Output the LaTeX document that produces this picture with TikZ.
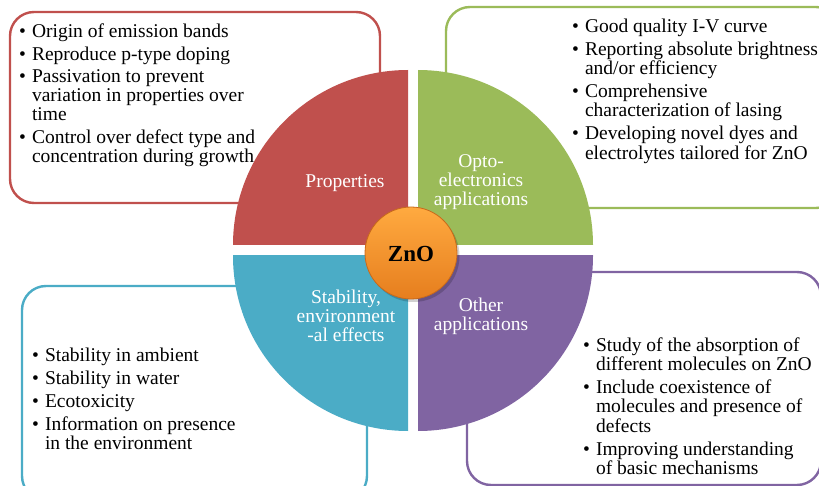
\documentclass[tikz,border=0pt]{standalone}
\usepackage{fontspec}
\setmainfont{Liberation Serif}
\definecolor{qred}{HTML}{C0504D}
\definecolor{qgreen}{HTML}{9BBB59}
\definecolor{qblue}{HTML}{4BACC6}
\definecolor{qpurple}{HTML}{8064A2}
\definecolor{znlight}{HTML}{FFAA40}
\definecolor{zndark}{HTML}{E67E1E}
\definecolor{znrim}{HTML}{C8691A}
\newcommand{\bodyfont}{\fontsize{19.5}{18.7}\selectfont}
\newcommand{\itemgap}{\\[3.8pt]}
\newenvironment{blist}{\bodyfont\begin{tabular}[t]{@{}l@{\hspace{6pt}}l@{}}}{\end{tabular}}
\tikzset{
  topicbox/.style={draw=#1, line width=2.4pt, fill=white, rounded corners=24pt},
  listtext/.style={anchor=base west, inner sep=0pt, text=black},
  quadlabel/.style={text=white, align=center, inner sep=0pt, font=\fontsize{19.5}{19}\selectfont},
}
\begin{document}
\begin{tikzpicture}[x=1pt, y=-1pt]
\useasboundingbox (0,0) rectangle (819,486);

% topic boxes with their lists
\clip (0,0) rectangle (819,486);
\draw[topicbox=qred] (10,12) rectangle (380,203);
\draw[topicbox=qgreen] (446,7) rectangle (840,208);
\draw[topicbox=qblue] (22,286) rectangle (367,500);
\draw[topicbox=qpurple] (467,272) rectangle (821,485);

\node[listtext] (tprop) at (19,37.3) {\begin{blist}
\textbullet & Origin of emission bands\itemgap
\textbullet & Reproduce p-type doping\itemgap
\textbullet & Passivation to prevent\\
 & variation in properties over\\
 & time\itemgap
\textbullet & Control over defect type and\\
 & concentration during growth
\end{blist}};

\node[listtext] (topto) at (572,32.3) {\begin{blist}
\textbullet & Good quality I-V curve\itemgap
\textbullet & Reporting absolute brightness\\
 & and/or efficiency\itemgap
\textbullet & Comprehensive\\
 & characterization of lasing\itemgap
\textbullet & Developing novel dyes and\\
 & electrolytes tailored for ZnO
\end{blist}};

\node[listtext] (tstab) at (32,361.7) {\begin{blist}
\textbullet & Stability in ambient\itemgap
\textbullet & Stability in water\itemgap
\textbullet & Ecotoxicity\itemgap
\textbullet & Information on presence\\
 & in the environment
\end{blist}};

\node[listtext] (tother) at (583,351) {\begin{blist}
\textbullet & Study of the absorption of\\
 & different molecules on ZnO\itemgap
\textbullet & Include coexistence of\\
 & molecules and presence of\\
 & defects\itemgap
\textbullet & Improving understanding\\
 & of basic mechanisms
\end{blist}};

% four quarter discs
\begin{scope}
  \clip (408,245) rectangle ++(-200,-200);
  \fill[qred] (408,245) circle[radius=175pt];
\end{scope}
\begin{scope}
  \clip (418,245) rectangle ++(200,-200);
  \fill[qgreen] (418,245) circle[radius=175pt];
\end{scope}
\begin{scope}
  \clip (408,256) rectangle ++(-200,200);
  \fill[qblue] (408,256) circle[radius=175pt];
\end{scope}
\begin{scope}
  \clip (418,256) rectangle ++(200,200);
  \fill[qpurple] (418,256) circle[radius=175pt];
\end{scope}

\node[quadlabel] (lprop) at (345,183) {Properties};
\node[quadlabel] (lopto) at (481,182) {Opto-\\electronics\\applications};
\node[quadlabel] (lstab) at (346,316) {Stability,\\environment\\-al effects};
\node[quadlabel] (lother) at (481,316) {Other\\applications};

% central disc
\fill[black, opacity=0.18] (413.5,256) circle[radius=46pt];
\shade[top color=znlight, bottom color=zndark, draw=znrim, line width=0.8pt]
  (411,253) circle[radius=46pt];
\node[inner sep=0pt, font=\fontsize{23}{23}\selectfont\bfseries] (zno) at (411,254) {ZnO};
\end{tikzpicture}
\end{document}
